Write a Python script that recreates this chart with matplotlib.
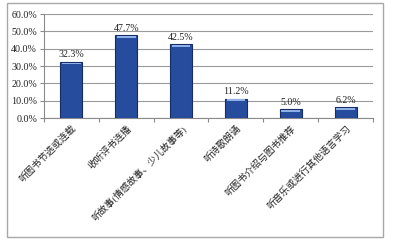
import matplotlib
matplotlib.use("Agg")
import matplotlib.pyplot as plt
from matplotlib.patches import Rectangle
import numpy as np

categories = ["听图书节选或连载", "收听评书连播", "听故事(情感故事、少儿故事等)",
              "听诗歌朗诵", "听图书介绍与图书推荐", "听音乐或进行其他语言学习"]
values = [32.3, 47.7, 42.5, 11.2, 5.0, 6.2]
yticks = [0, 10, 20, 30, 40, 50, 60]

plt.rcParams['font.family'] = ['Liberation Serif', 'Noto Sans CJK SC', 'DejaVu Sans']

W, H = 396, 243
fig = plt.figure(figsize=(W / 100, H / 100), dpi=100)
fig.patch.set_facecolor('white')

# chart border
fig.add_artist(Rectangle((7 / W, 1 - 237 / H), (383 - 7) / W, (237 - 3) / H,
                         transform=fig.transFigure, fill=False,
                         edgecolor='#a8a8a8', linewidth=1.0))

ax = fig.add_axes([44 / W, 1 - 118 / H, (373 - 44) / W, (118 - 14) / H])
x = np.arange(len(categories))
ax.bar(x, values, width=0.4, color='#264c9e', edgecolor='#152c66', linewidth=0.8, zorder=3)
# light highlight at top of bars
ax.bar(x, [0.8] * len(values), bottom=[v - 1.3 for v in values], width=0.34,
       color='#8fb0e6', linewidth=0, zorder=4)

for xi, v in zip(x, values):
    ax.text(xi, v + 1.5, f"{v:.1f}%", ha='center', va='bottom', fontsize=7.2, color='#222222')

ax.set_xlim(-0.5, len(categories) - 0.5)
ax.set_ylim(0, 60)
ax.set_yticks(yticks)
ax.set_yticklabels([f"{t:.1f}%" for t in yticks], fontsize=7.2, color='#222222')
ax.yaxis.grid(True, color='#9a9a9a', linewidth=0.8, zorder=0)
ax.set_axisbelow(True)

ax.set_xticks(x)
ax.set_xticklabels(categories, rotation=45, ha='right', va='top',
                   rotation_mode='anchor', fontsize=6.8, color='#222222')
ax.tick_params(axis='x', which='major', length=0, pad=4)
ax.set_xticks(np.arange(-0.5, len(categories)), minor=True)
ax.tick_params(axis='x', which='minor', length=3, color='#8a8a8a', width=0.8)
ax.tick_params(axis='y', length=3, color='#8a8a8a', width=0.8, pad=2)

for s in ['top', 'right']:
    ax.spines[s].set_visible(False)
ax.spines['left'].set_color('#8a8a8a')
ax.spines['bottom'].set_color('#8a8a8a')
ax.spines['left'].set_linewidth(0.8)
ax.spines['bottom'].set_linewidth(0.8)

fig.savefig("out.png", dpi=100, facecolor='white')
